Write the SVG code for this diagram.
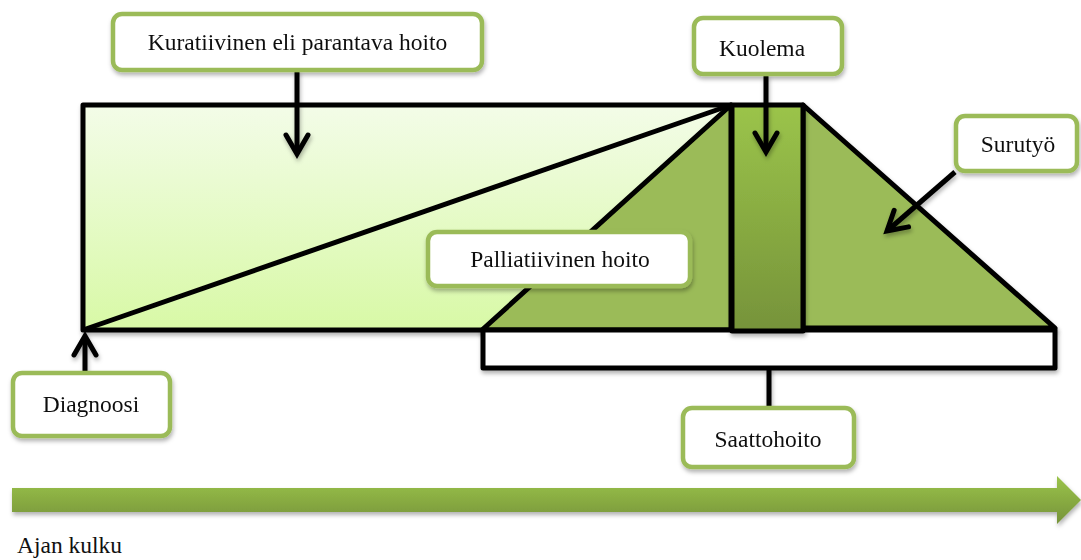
<svg xmlns="http://www.w3.org/2000/svg" width="1081" height="560" viewBox="0 0 1081 560">
<style>
.lbl{fill:#fff;stroke:#9BBB59;stroke-width:4.5}
.t{font-family:"Liberation Serif","Times New Roman",serif;font-size:23.5px;fill:#111;text-anchor:middle}
.shape{stroke:#000;stroke-width:5;stroke-linejoin:round}
.conn{stroke:#000;stroke-width:5;fill:none}
</style>
<defs>
<linearGradient id="gLight" x1="0" y1="0" x2="0" y2="1">
<stop offset="0" stop-color="#F3FCE8"/>
<stop offset="1" stop-color="#D8F9A6"/>
</linearGradient>
<linearGradient id="gDark" x1="0" y1="0" x2="0" y2="1">
<stop offset="0" stop-color="#9BC44A"/>
<stop offset="1" stop-color="#76933A"/>
</linearGradient>
<filter id="sh" x="-10%" y="-10%" width="130%" height="140%">
<feDropShadow dx="1" dy="3" stdDeviation="2" flood-color="#000" flood-opacity="0.3"/>
</filter>
<marker id="chev" viewBox="-14 -2 30 28" refX="12" refY="12" markerWidth="30" markerHeight="28" markerUnits="userSpaceOnUse" orient="auto" overflow="visible">
<polyline points="-7,1 12,12 -7,23" fill="none" stroke="#000" stroke-width="5" stroke-linecap="round" stroke-linejoin="miter"/>
</marker>
</defs>

<g id="timeline" filter="url(#sh)">
<polygon points="12,488 1057,488 1057,476 1081,500 1057,524 1057,512 12,512" fill="url(#gDark)"/>
</g>
<text class="t" x="17" y="553" style="text-anchor:start">Ajan kulku</text>

<g id="curative-area" filter="url(#sh)">
<rect x="83" y="105" width="647" height="225" fill="url(#gLight)" class="shape"/>
<line x1="83" y1="330" x2="731" y2="105" class="shape"/>
</g>
<g id="palliative-area" filter="url(#sh)">
<polygon points="482,330 731,105 731,330" fill="#9BBB59" class="shape"/>
</g>
<g id="grief-area" filter="url(#sh)">
<polygon points="803,105 1055,328 803,328" fill="#9BBB59" class="shape"/>
</g>
<g id="terminal-bracket" filter="url(#sh)">
<rect x="483" y="330" width="572" height="38" fill="#fff" class="shape"/>
</g>
<g id="death-column" filter="url(#sh)">
<rect x="732" y="105" width="71" height="226" fill="url(#gDark)" class="shape"/>
</g>

<g id="connectors" filter="url(#sh)">
<line x1="297" y1="70" x2="297" y2="154" class="conn" marker-end="url(#chev)"/>
<line x1="766" y1="75" x2="766" y2="152" class="conn" marker-end="url(#chev)"/>
<line x1="955" y1="172" x2="887" y2="231" class="conn" marker-end="url(#chev)"/>
<line x1="85" y1="372" x2="85" y2="336" class="conn" marker-end="url(#chev)"/>
<line x1="769" y1="368" x2="769" y2="407" class="conn"/>
</g>

<g id="node-curative" filter="url(#sh)">
<rect x="113" y="14" width="369" height="56" rx="9" class="lbl"/>
<text class="t" x="297.5" y="50">Kuratiivinen eli parantava hoito</text>
</g>
<g id="node-death" filter="url(#sh)">
<rect x="694" y="18" width="148" height="56" rx="9" class="lbl"/>
<text class="t" x="762" y="56">Kuolema</text>
</g>
<g id="node-grief" filter="url(#sh)">
<rect x="956" y="116" width="121" height="55" rx="9" class="lbl"/>
<text class="t" x="1018" y="152">Surutyö</text>
</g>
<g id="node-palliative" filter="url(#sh)">
<rect x="428" y="232" width="262" height="54" rx="9" class="lbl"/>
<text class="t" x="560" y="267">Palliatiivinen hoito</text>
</g>
<g id="node-diagnosis" filter="url(#sh)">
<rect x="13" y="373" width="157" height="63" rx="9" class="lbl"/>
<text class="t" x="91" y="412">Diagnoosi</text>
</g>
<g id="node-terminal" filter="url(#sh)">
<rect x="683" y="408" width="171" height="59" rx="9" class="lbl"/>
<text class="t" x="768" y="447">Saattohoito</text>
</g>
</svg>
